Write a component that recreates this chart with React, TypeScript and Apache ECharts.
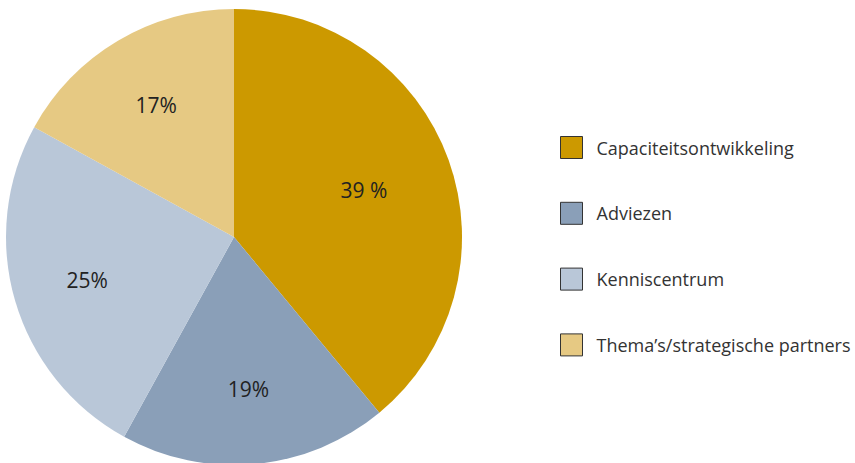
import React, { useEffect, useRef } from "react";
import * as echarts from "echarts";

const categories = ["Capaciteitsontwikkeling", "Adviezen", "Kenniscentrum", "Thema’s/strategische partners"];
const values = [39, 19, 25, 17];
const labels = ["39 %", "19%", "25%", "17%"];
const colors = ["#cc9900", "#8a9fb8", "#b9c7d8", "#e6c983"];

export default function App() {
  const ref = useRef<HTMLDivElement>(null);
  useEffect(() => {
    if (!ref.current) return;
    const chart = echarts.init(ref.current, undefined, { renderer: "svg" });
    const font = "'Open Sans', 'Noto Sans', sans-serif";
    const mainData = categories.map((c, i) => ({
      name: c,
      value: values[i],
      itemStyle: { color: colors[i] },
    }));
    const labelData = (show: (i: number) => boolean) =>
      categories.map((c, i) => ({
        name: c,
        value: values[i],
        itemStyle: { color: "transparent" },
        label: { show: show(i), formatter: labels[i] },
      }));
    const labelStyle = {
      position: "inside",
      fontSize: 21,
      color: "#222",
      fontFamily: font,
    };
    chart.setOption({
      animation: false,
      legend: {
        orient: "vertical",
        left: 560,
        top: 136,
        padding: 0,
        itemWidth: 22,
        itemHeight: 22,
        itemGap: 42.8,
        icon: "rect",
        data: categories,
        itemStyle: { borderColor: "#333", borderWidth: 1 },
        textStyle: { fontSize: 18, color: "#333", fontFamily: font, padding: [0, 0, 0, 9] },
        selectedMode: false,
      },
      series: [
        {
          type: "pie",
          center: [234, 237],
          radius: [0, 228],
          startAngle: 90,
          clockwise: true,
          label: { show: false },
          labelLine: { show: false },
          silent: true,
          data: mainData,
        },
        {
          type: "pie",
          center: [234, 237],
          radius: [0, 300],
          startAngle: 90,
          clockwise: true,
          silent: true,
          label: labelStyle,
          labelLine: { show: false },
          data: labelData((i) => i !== 0),
        },
        {
          type: "pie",
          center: [234, 237],
          radius: [0, 270],
          startAngle: 90,
          clockwise: true,
          silent: true,
          label: labelStyle,
          labelLine: { show: false },
          data: labelData((i) => i === 0),
        },
      ],
    });
    return () => chart.dispose();
  }, []);
  return (
    <div
      ref={ref}
      style={{ position: "absolute", left: 0, top: 0, width: 855, height: 463, background: "#fff" }}
    />
  );
}
